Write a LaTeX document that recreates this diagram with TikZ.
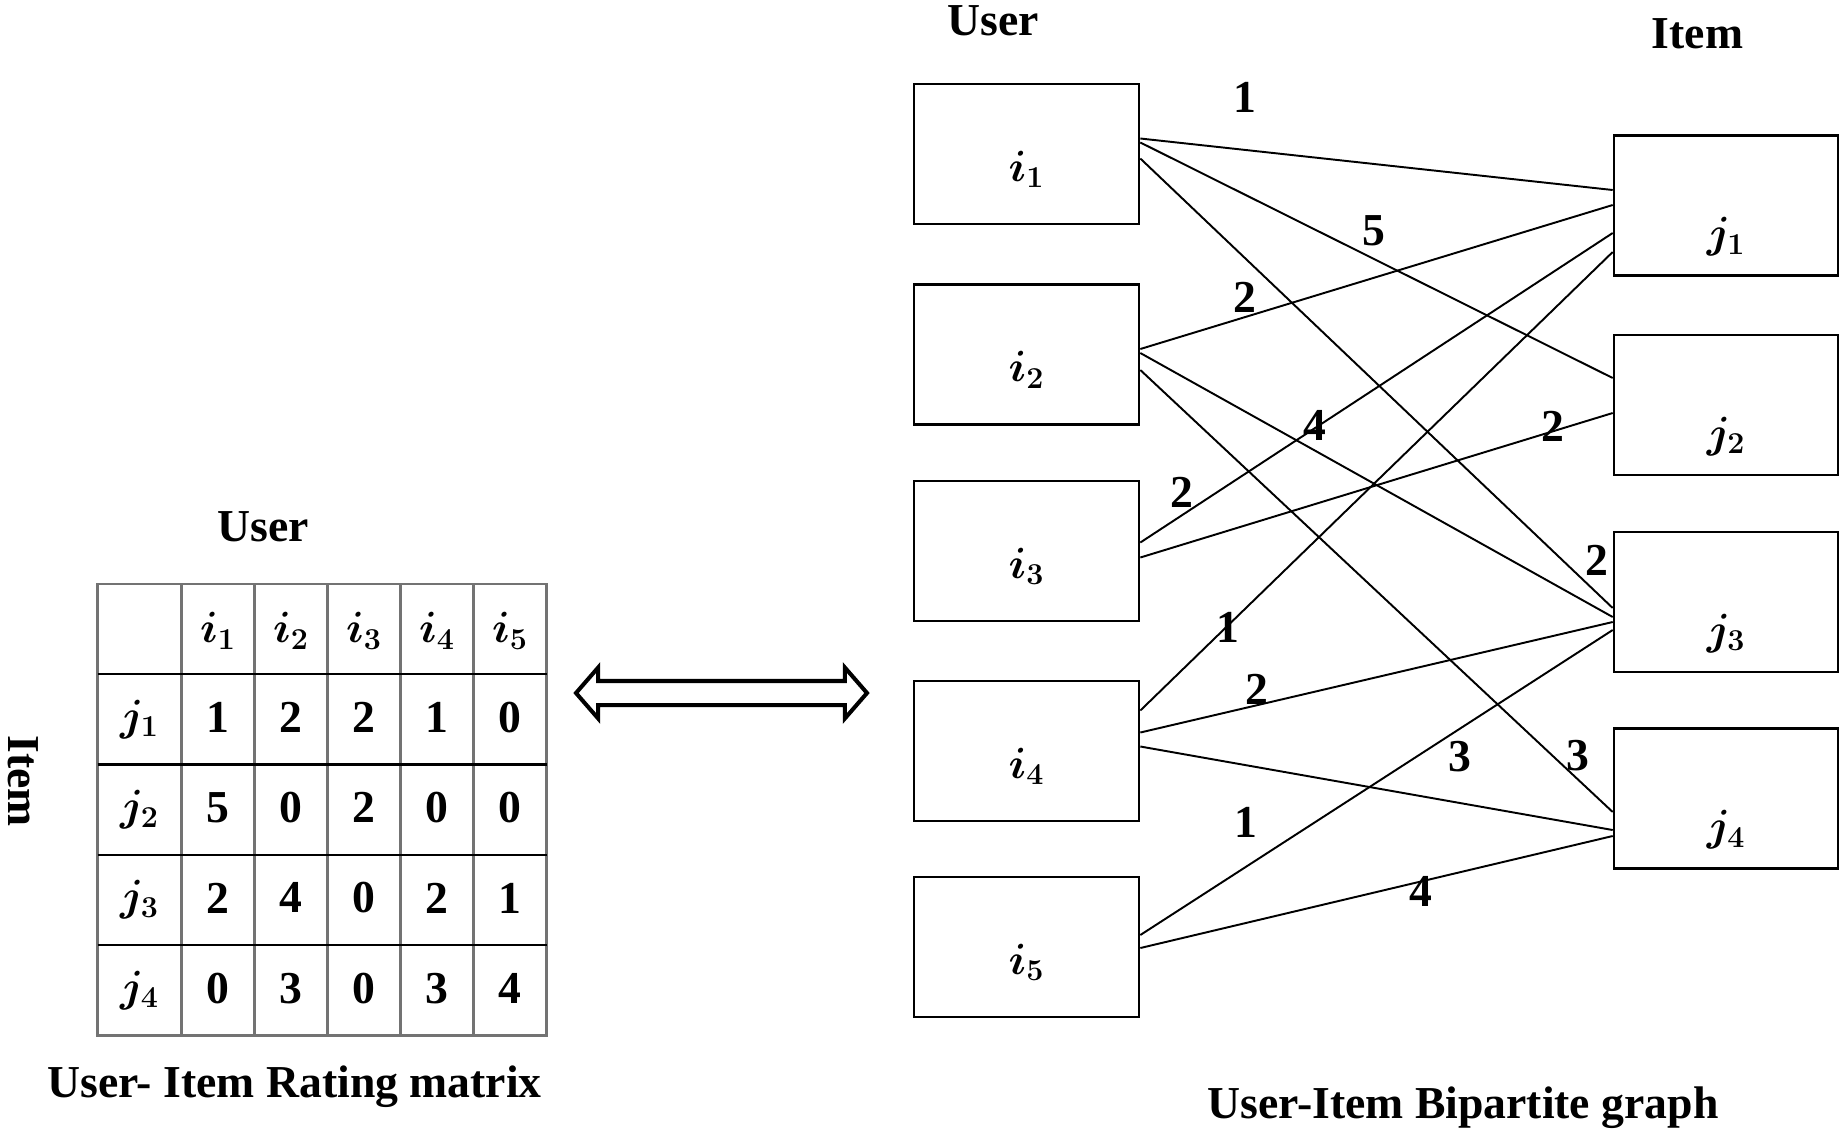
\documentclass[tikz,border=0pt]{standalone}
\usepackage{fontspec}
\setmainfont{Liberation Serif}
\usetikzlibrary{shapes.arrows}

\newcommand{\diagfont}{\fontsize{26}{30}\selectfont}

\begin{document}
\begin{tikzpicture}[
  ubox/.style={draw, line width=1.5pt, minimum width=4.5cm, minimum height=2.8cm,
               inner sep=0pt, text height=1.08cm, text depth=0pt, font=\diagfont\boldmath},
  ibox/.style={ubox, minimum width=4.48cm, text height=1.68cm},
  wire/.style={line width=1.1pt},
  wt/.style={font=\bfseries\diagfont, inner sep=0pt},
  cell/.style={font=\bfseries\diagfont\boldmath, inner sep=0pt},
  hd/.style={font=\bfseries\diagfont, inner sep=0pt, anchor=base},
  gridv/.style={black!55, line width=1.6pt},
]
\useasboundingbox (0,0) rectangle (36.9,-22.68);
% rating matrix
\draw[gridv] (1.95,-11.68) rectangle (10.93,-20.71);
\foreach \x in {3.63,5.09,6.55,8.01,9.47}
  \draw[gridv] (\x,-11.68) -- (\x,-20.71);
\foreach \y in {-13.486,-15.292,-17.098,-18.904}
  \draw[line width=1.3pt] (1.95,\y) -- (10.93,\y);
\foreach \col in {1,...,5}
  \node[cell] (h\col) at (2.9+1.46*\col,-12.62) {$i_\col$};
\foreach \row/\vals in {1/{1,2,2,1,0},2/{5,0,2,0,0},3/{2,4,0,2,1},4/{0,3,0,3,4}} {
  \node[cell] (r\row) at (2.79,-12.583-1.806*\row) {$j_\row$};
  \foreach \v [count=\col] in \vals
    \node[cell] (m\row\col) at (2.9+1.46*\col,-12.54-1.806*\row) {\v};
}
\node[hd] (ucol) at (5.26,-10.83) {User};
\node[hd, rotate=-90, anchor=center] (irow) at (0.46,-15.62) {Item};
\node[hd] (cap1) at (5.89,-21.94) {User- Item Rating matrix};

\node[double arrow, draw, line width=2.3pt, minimum height=5.82cm, minimum width=0.94cm,
      inner xsep=0pt, inner ysep=0.2cm, double arrow head extend=0.27cm,
      double arrow tip angle=98] (dual) at (14.43,-13.86) {};

% bipartite graph
\node[hd] (uhead) at (19.87,-0.70) {User};
\node[hd] (ihead) at (33.95,-0.97) {Item};
\node[ubox] (i1) at (20.53,-3.08) {$i_1$};
\node[ubox] (i2) at (20.53,-7.09) {$i_2$};
\node[ubox] (i3) at (20.53,-11.02) {$i_3$};
\node[ubox] (i4) at (20.53,-15.02) {$i_4$};
\node[ubox] (i5) at (20.53,-18.94) {$i_5$};
\node[ibox] (j1) at (34.52,-4.11) {$j_1$};
\node[ibox] (j2) at (34.52,-8.10) {$j_2$};
\node[ibox] (j3) at (34.52,-12.04) {$j_3$};
\node[ibox] (j4) at (34.52,-15.97) {$j_4$};
\draw[wire] ([yshift=0.31cm]i1.east) -- ([yshift=0.31cm]j1.west);
\draw[wire] ([yshift=0.23cm]i1.east) -- ([yshift=0.54cm]j2.west);
\draw[wire] ([yshift=-0.09cm]i1.east) -- ([yshift=-0.12cm]j3.west);
\draw[wire] ([yshift=0.11cm]i2.east) -- ([yshift=0.01cm]j1.west);
\draw[wire] ([yshift=0.03cm]i2.east) -- ([yshift=-0.30cm]j3.west);
\draw[wire] ([yshift=-0.31cm]i2.east) -- ([yshift=-0.27cm]j4.west);
\draw[wire] ([yshift=0.17cm]i3.east) -- ([yshift=-0.55cm]j1.west);
\draw[wire] ([yshift=-0.13cm]i3.east) -- ([yshift=-0.16cm]j2.west);
\draw[wire] ([yshift=0.81cm]i4.east) -- ([yshift=-0.93cm]j1.west);
\draw[wire] ([yshift=0.37cm]i4.east) -- ([yshift=-0.40cm]j3.west);
\draw[wire] ([yshift=0.09cm]i4.east) -- ([yshift=-0.63cm]j4.west);
\draw[wire] ([yshift=0.24cm]i5.east) -- ([yshift=-0.56cm]j3.west);
\draw[wire] ([yshift=-0.02cm]i5.east) -- ([yshift=-0.75cm]j4.west);
\node[wt] (w11) at (24.90,-1.94) {1};
\node[wt] (w12) at (27.48,-4.62) {5};
\node[wt] (w13) at (31.94,-11.20) {2};
\node[wt] (w21) at (24.90,-5.94) {2};
\node[wt] (w23) at (26.30,-8.50) {4};
\node[wt] (w24) at (31.56,-15.12) {3};
\node[wt] (w31) at (23.64,-9.84) {2};
\node[wt] (w32) at (31.06,-8.52) {2};
\node[wt] (w41) at (24.56,-12.54) {1};
\node[wt] (w43) at (25.14,-13.78) {2};
\node[wt] (w44) at (29.20,-15.14) {3};
\node[wt] (w53) at (24.92,-16.44) {1};
\node[wt] (w54) at (28.42,-17.82) {4};
\node[hd] (cap2) at (29.26,-22.36) {User-Item Bipartite graph};
\end{tikzpicture}
\end{document}
